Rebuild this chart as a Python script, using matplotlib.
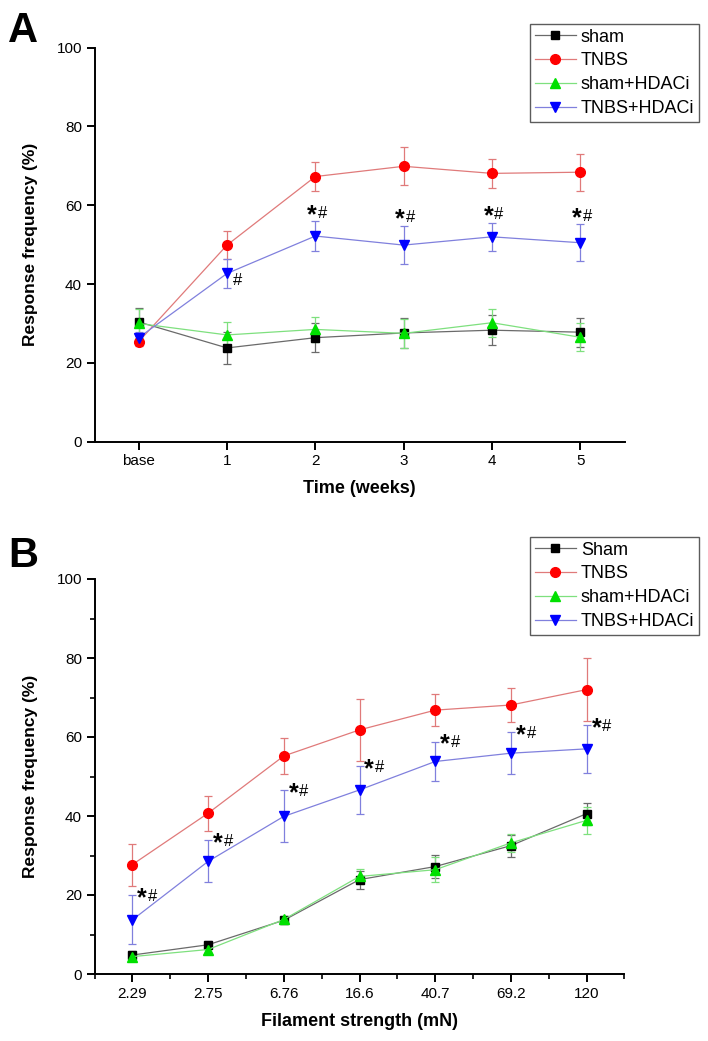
import matplotlib
matplotlib.use("Agg")
import matplotlib.pyplot as plt
from matplotlib.lines import Line2D

plt.rcParams["font.family"] = ["Liberation Sans", "DejaVu Sans"]

# panel A: response frequency over time
WEEKS = ["base", "1", "2", "3", "4", "5"]
SHAM_A = [30.4, 23.8, 26.4, 27.6, 28.3, 27.8]
SHAM_A_ERR = [3.6, 4.0, 3.6, 3.7, 3.8, 3.7]
TNBS_A = [25.4, 49.9, 67.3, 69.9, 68.1, 68.4]
TNBS_A_ERR = [1.0, 3.5, 3.6, 4.8, 3.7, 4.7]
SHAMH_A = [30.0, 27.1, 28.5, 27.5, 30.2, 26.5]
SHAMH_A_ERR = [3.8, 3.2, 3.2, 3.7, 3.5, 3.6]
TNBSH_A = [26.4, 42.7, 52.2, 49.9, 52.0, 50.5]
TNBSH_A_ERR = [1.5, 3.6, 3.7, 4.9, 3.6, 4.7]

# panel B: response frequency vs filament strength
FILAMENT = ["2.29", "2.75", "6.76", "16.6", "40.7", "69.2", "120"]
SHAM_B = [4.8, 7.4, 13.6, 23.9, 27.2, 32.5, 40.6]
SHAM_B_ERR = [1.0, 0.9, 0.8, 2.3, 3.0, 2.8, 2.8]
TNBS_B = [27.7, 40.7, 55.2, 61.8, 66.8, 68.1, 72.0]
TNBS_B_ERR = [5.3, 4.4, 4.6, 7.8, 4.1, 4.3, 8.0]
SHAMH_B = [4.4, 6.2, 13.8, 24.7, 26.4, 33.2, 38.9]
SHAMH_B_ERR = [0.8, 0.8, 0.8, 1.9, 3.2, 2.2, 3.4]
TNBSH_B = [13.7, 28.5, 39.9, 46.6, 53.8, 55.9, 57.0]
TNBSH_B_ERR = [6.2, 5.3, 6.6, 6.0, 5.0, 5.3, 6.0]

# (line colour, marker, marker colour, marker size)
STYLES = [
    ("#6a6a6a", "s", "black", 5.8),
    ("#e07a7a", "o", "#ff0000", 7),
    ("#7ee07e", "^", "#00e000", 7.5),
    ("#8080dd", "v", "#0000ff", 7.5),
]


def draw_series(ax, x, series):
    for (y, err), (lc, mk, mc, ms) in zip(series, STYLES):
        ax.errorbar(x, y, yerr=err, color=lc, lw=0.9, elinewidth=0.9,
                    capsize=3, capthick=0.9, marker=mk, mfc=mc, mec=mc, ms=ms)


def style_axes(ax):
    for side in ("top", "right"):
        ax.spines[side].set_visible(False)
    for side in ("left", "bottom"):
        ax.spines[side].set_linewidth(1.4)
    ax.tick_params(which="major", direction="out", length=6, width=1.4,
                   labelsize=11, pad=3)
    ax.tick_params(which="minor", direction="out", length=3.5, width=1.2)
    ax.set_ylim(0, 100)
    ax.set_yticks(range(0, 101, 20))
    ax.set_ylabel("Response frequency (%)", fontsize=12.5, fontweight="bold")
    ax.yaxis.set_label_coords(-0.107, 0.5)


def add_legend(fig, labels, top):
    handles = [Line2D([], [], color=lc, lw=0.9, marker=mk, mfc=mc, mec=mc, ms=ms)
               for lc, mk, mc, ms in STYLES]
    leg = fig.legend(handles, labels, loc="upper right",
                     bbox_to_anchor=(699 / 708, 1 - top / 1041),
                     fontsize=13, frameon=True, fancybox=False, borderaxespad=0,
                     handlelength=2.27, handletextpad=0.3, borderpad=0.25,
                     labelspacing=0.38)
    leg.get_frame().set_edgecolor("#333333")
    leg.get_frame().set_linewidth(1.0)


def star_hash(ax, x, y, dx, dy):
    # dx, dy: centre of the star glyph in points from (x, y); '#' sits 7.5 pt right
    ax.annotate("*", xy=(x, y), xytext=(dx, dy - 7.1), textcoords="offset points",
                ha="center", va="baseline", fontsize=18, fontweight="bold")
    ax.annotate("#", xy=(x, y), xytext=(dx + 7.5, dy - 4.1), textcoords="offset points",
                ha="center", va="baseline", fontsize=12)


fig = plt.figure(figsize=(7.08, 10.41), dpi=100)

# ---- panel A
axA = fig.add_axes([94.5 / 708, 1 - 441.7 / 1041, 530 / 708, 394 / 1041])
xa = list(range(len(WEEKS)))
draw_series(axA, xa, [(SHAM_A, SHAM_A_ERR), (TNBS_A, TNBS_A_ERR),
                      (SHAMH_A, SHAMH_A_ERR), (TNBSH_A, TNBSH_A_ERR)])
style_axes(axA)
axA.set_xlim(-0.5, len(WEEKS) - 0.5)
axA.set_xticks(xa)
axA.set_xticklabels(WEEKS)
axA.set_xlabel("Time (weeks)", fontsize=13, fontweight="bold")
axA.xaxis.set_label_coords(0.5, -0.098)
for i in range(2, len(WEEKS)):
    star_hash(axA, xa[i], TNBSH_A[i] + TNBSH_A_ERR[i], -2.5, 6.5)
axA.annotate("#", xy=(xa[1], TNBSH_A[1]), xytext=(7.5, -8), textcoords="offset points",
             ha="center", va="baseline", fontsize=12)
add_legend(fig, ["sham", "TNBS", "sham+HDACi", "TNBS+HDACi"], 24)
fig.text(8 / 708, 1 - 42 / 1041, "A", fontsize=30, fontweight="bold")

# ---- panel B
axB = fig.add_axes([94.5 / 708, 1 - 974 / 1041, 530 / 708, 395 / 1041])
xb = list(range(1, len(FILAMENT) + 1))
draw_series(axB, xb, [(SHAM_B, SHAM_B_ERR), (TNBS_B, TNBS_B_ERR),
                      (SHAMH_B, SHAMH_B_ERR), (TNBSH_B, TNBSH_B_ERR)])
style_axes(axB)
axB.set_xlim(0.5, len(FILAMENT) + 0.5)
axB.set_xticks(xb)
axB.set_xticklabels(FILAMENT)
axB.set_xticks([i + 0.5 for i in range(0, len(FILAMENT) + 1)], minor=True)
axB.set_yticks(range(10, 100, 20), minor=True)
axB.set_xlabel("Filament strength (mN)", fontsize=13, fontweight="bold")
axB.xaxis.set_label_coords(0.5, -0.098)
for i in range(len(FILAMENT)):
    star_hash(axB, xb[i], TNBSH_B[i] + TNBSH_B_ERR[i], 7, 0)
add_legend(fig, ["Sham", "TNBS", "sham+HDACi", "TNBS+HDACi"], 537)
fig.text(8 / 708, 1 - 567 / 1041, "B", fontsize=30, fontweight="bold")

fig.savefig("out.png", dpi=100)
